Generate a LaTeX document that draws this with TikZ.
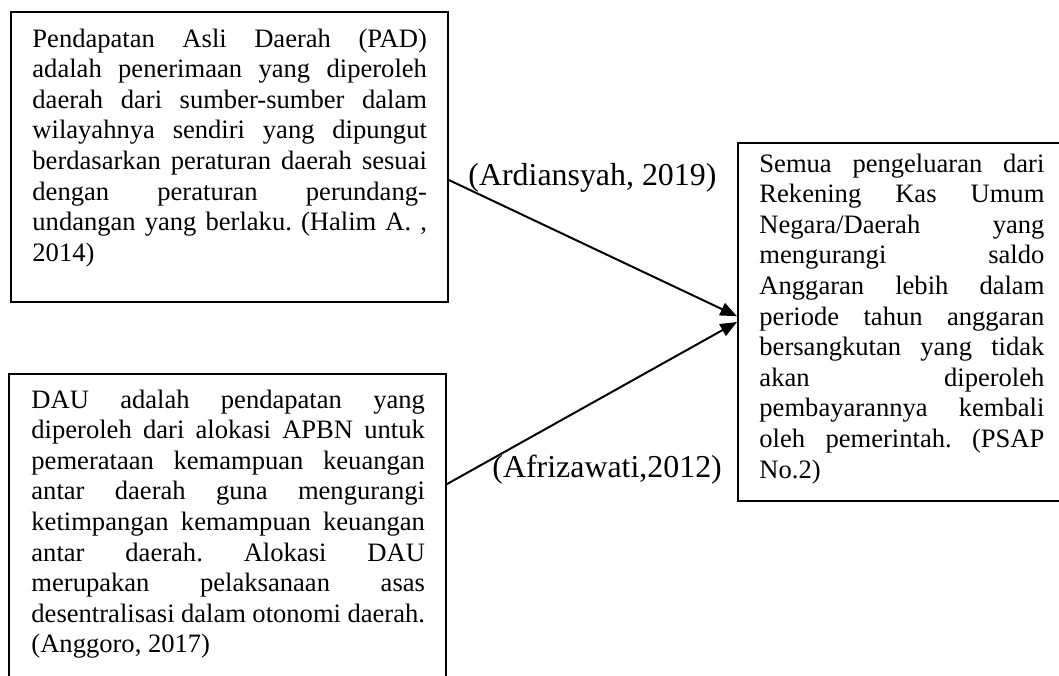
\documentclass[tikz,border=0pt]{standalone}
\usepackage{fontspec}
\setmainfont{Liberation Serif}
\usetikzlibrary{arrows.meta}
\newdimen\pxu \pxu=0.4515pt
\frenchspacing
\hyphenpenalty=10000
\exhyphenpenalty=10000
\hbadness=10000
\tikzset{
  box/.style={draw, line width=0.9pt, inner sep=0pt},
  para/.style={inner sep=0pt, anchor=base west, align=justify, font=\fontsize{12}{13.82}\selectfont},
  cite/.style={inner sep=0pt, anchor=base west, font=\fontsize{14.4}{17}\selectfont},
  link/.style={line width=0.9pt, -{Triangle[length=7.5pt,width=6pt]}}
}
\begin{document}
\begin{tikzpicture}[x=0.4515pt,y=-0.4515pt]
\useasboundingbox (0,0) rectangle (1059,675);
\clip (0,0) rectangle (1059,675);
% boxes
\node[box, minimum width=437\pxu, minimum height=290\pxu] (pad) at (229.5,157) {};
\node[box, minimum width=437\pxu, minimum height=346\pxu] (dau) at (227.5,547) {};
\node[box, minimum width=328\pxu, minimum height=358\pxu] (exp) at (902,322) {};
% texts
\node[para, text width=394.5\pxu] (padtext) at (32,47) {Pendapatan Asli Daerah (PAD)\linebreak
adalah penerimaan yang diperoleh\linebreak
daerah dari sumber-sumber dalam\linebreak
wilayahnya sendiri yang dipungut\linebreak
berdasarkan peraturan daerah sesuai\linebreak
dengan peraturan perundang-\linebreak
undangan yang berlaku. (Halim A. ,\linebreak
2014)};
\node[para, text width=393.5\pxu] (dautext) at (31,408) {DAU adalah pendapatan yang\linebreak
diperoleh dari alokasi APBN untuk\linebreak
pemerataan kemampuan keuangan\linebreak
antar daerah guna mengurangi\linebreak
ketimpangan kemampuan keuangan\linebreak
antar daerah. Alokasi DAU\linebreak
merupakan pelaksanaan asas\linebreak
desentralisasi dalam otonomi daerah.\linebreak
(Anggoro, 2017)};
\node[para, text width=285\pxu] (exptext) at (759,172) {Semua pengeluaran dari\linebreak
Rekening Kas Umum\linebreak
Negara/Daerah yang\linebreak
mengurangi saldo\linebreak
Anggaran lebih dalam\linebreak
periode tahun anggaran\linebreak
bersangkutan yang tidak\linebreak
akan diperoleh\linebreak
pembayarannya kembali\linebreak
oleh pemerintah. (PSAP\linebreak
No.2)};
% labels
\node[cite] (ardi) at (468,185) {(Ardiansyah, 2019)};
\node[cite] (afri) at (492,477) {(Afrizawati,2012)};
% arrows
\draw[link] (pad.-6.5) -- (exp.178.25);
\draw[link] (dau.16.3) -- (exp.west);
\end{tikzpicture}
\end{document}
